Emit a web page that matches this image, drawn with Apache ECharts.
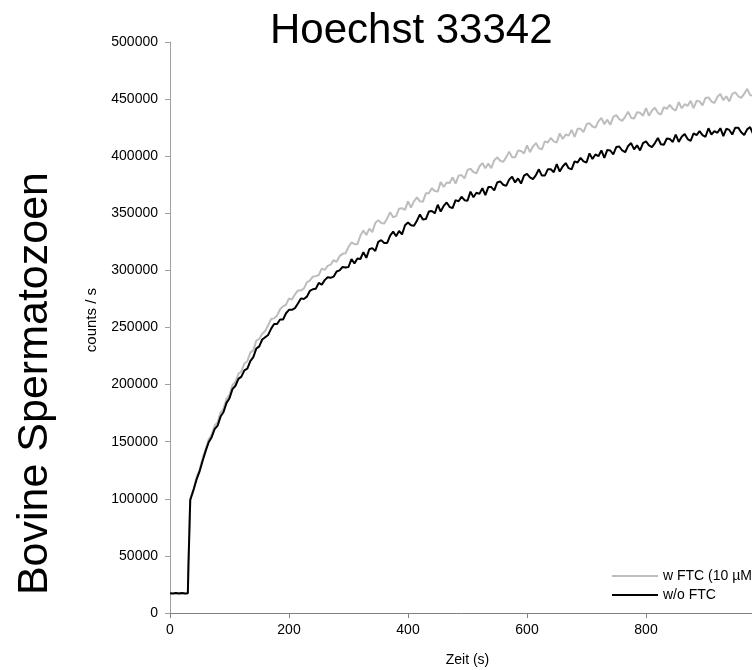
<!DOCTYPE html>
<html>
<head>
<meta charset="utf-8">
<script src="https://cdn.jsdelivr.net/npm/echarts@6/dist/echarts.min.js"></script>
<style>html,body{margin:0;padding:0;background:#fff;}#c{width:752px;height:670px;}</style>
</head>
<body>
<div id="c"></div>
<script>
const titleText = 'Hoechst 33342';
const yTitle = 'Bovine Spermatozoen';
const yUnit = 'counts / s';
const xName = 'Zeit (s)';
const seriesNames = ['w FTC (10 µM)', 'w/o FTC'];

const time = [0,5,10,15,20,25,30,31,33,34,
35,40,45,50,55,60,65,70,75,80,85,90,95,100,105,110,115,120,125,130,135,140,145,150,
155,160,165,170,175,180,185,190,195,200,205,210,215,220,225,230,235,240,245,250,
255,260,265,270,275,280,285,290,295,300,305,310,315,320,325,330,335,340,345,350,
355,360,365,370,375,380,385,390,395,400,405,410,415,420,425,430,435,440,445,450,
455,460,465,470,475,480,485,490,495,500,505,510,515,520,525,530,535,540,545,550,
555,560,565,570,575,580,585,590,595,600,605,610,615,620,625,630,635,640,645,650,
655,660,665,670,675,680,685,690,695,700,705,710,715,720,725,730,735,740,745,750,
755,760,765,770,775,780,785,790,795,800,805,810,815,820,825,830,835,840,845,850,
855,860,865,870,875,880,885,890,895,900,905,910,915,920,925,930,935,940,945,950,
955,960,965,970,975,980];

const withFTC = [17250,17000,17500,17000,17500,17000,17250,42000,42500,99000,
101500,109500,119500,126000,136000,143500,152000,156000,164000,167000,175500,179000,187500,191000,199500,202500,209500,211500,218500,220500,228000,230000,238500,240000,
244500,247000,252000,257500,258000,260500,266000,268500,270000,275500,274500,279000,282500,282500,284000,289500,291000,294500,295000,296000,
301500,300500,304000,305000,309000,307500,312500,314500,315000,320500,324500,323000,323000,330500,335000,331000,336500,333500,341500,344000,
341500,341000,345500,351000,346500,347500,354000,354500,353000,360500,355000,360500,364000,360500,360000,367500,367500,372000,369500,369000,
377500,373000,377000,376500,381500,376000,383000,383500,380500,388000,389000,386000,385000,391000,394000,389500,393500,389500,396500,399000,
396000,395000,399000,404000,399000,399000,405000,404500,402500,409500,403500,408500,411500,407000,406000,413000,412000,416000,413000,412000,
420000,415000,419000,418000,423000,417000,424000,424000,421000,428000,429000,426000,425000,430500,433500,428000,432000,427500,434500,436000,
432500,431000,434500,439000,433500,433000,438500,438000,435500,442000,435500,440000,442500,438000,436500,443000,441500,445000,441500,440000,
447500,442000,445500,444000,448500,442000,448500,448000,444500,451000,451500,448000,446500,452000,454500,449000,452500,448000,454500,456000,
452500,451000,454500,459000,453500,453000];

const withoutFTC = [17250,17000,17500,17000,17500,17000,17250,42000,42500,99000,
100500,108500,117500,124500,133500,142000,149500,154000,161000,164000,172000,176000,184000,188000,196000,199000,205000,207000,212500,214000,220500,224000,231500,233500,
239500,241500,243500,249000,253000,253000,257000,257000,262500,265500,265500,267000,271000,275500,275000,277000,282000,283500,284000,289000,
287500,291500,294000,293500,294500,299000,300000,303000,302500,303000,310000,306000,310500,310000,316000,311000,318500,319500,317000,325000,
326500,324000,324000,330500,334000,330000,334500,331500,339500,342000,339500,339000,343500,349000,344500,345000,351500,352000,350000,357500,
351500,356500,359500,355500,354500,361500,360500,364500,361500,361000,369000,364000,368000,367000,372000,366000,373000,373000,370000,377000,
378000,375000,374000,379500,382000,377000,380500,376000,383000,384500,381500,380000,383500,388500,383000,383000,388500,388500,386000,393000,
386500,391000,394000,389500,388500,395500,394500,398500,395500,394500,402500,397500,401500,400000,405000,398500,405500,405000,401500,408000,
408500,405000,403500,409000,411500,406000,409500,405000,411500,413000,409500,408000,411500,416000,410500,410000,415500,415000,412500,419000,
412500,417000,419500,415000,413500,420000,418500,422000,418500,417000,424500,419000,422000,420500,424500,417500,424000,423000,419000,425000,
425000,421000,418500,423500,425500,419500];

const xTicks = {min: 0, max: 1000, interval: 200};
const yTicks = {min: 0, max: 500000, interval: 50000};

const chart = echarts.init(document.getElementById('c'), null, {width: 752, height: 670});
const font = 'Liberation Sans, Arial, sans-serif';
chart.setOption({
  animation: false,
  backgroundColor: '#ffffff',
  title: {
    text: titleText, left: 265, top: 5,
    textStyle: {fontFamily: font, fontSize: 42, fontWeight: 'normal', color: '#000'}
  },
  grid: {left: 170, top: 42, right: -13, bottom: 57, containLabel: false, outerBoundsMode: 'none'},
  xAxis: {
    type: 'value', min: xTicks.min, max: xTicks.max, interval: xTicks.interval,
    name: xName, nameLocation: 'middle', nameGap: 40,
    nameTextStyle: {fontFamily: font, fontSize: 14, color: '#000'},
    axisLine: {show: true, onZero: false, lineStyle: {color: '#808080', width: 1}},
    axisTick: {show: true, length: 5, lineStyle: {color: '#808080'}},
    axisLabel: {fontFamily: font, fontSize: 14, color: '#000', margin: 10, showMaxLabel: false},
    splitLine: {show: false}
  },
  yAxis: {
    type: 'value', min: yTicks.min, max: yTicks.max, interval: yTicks.interval,
    axisLine: {show: true, lineStyle: {color: '#a0a0a0', width: 1}},
    axisTick: {show: true, length: 5, lineStyle: {color: '#a0a0a0'}},
    axisLabel: {fontFamily: font, fontSize: 14, color: '#000', margin: 12, formatter: v => String(v)},
    splitLine: {show: false}
  },
  legend: {
    orient: 'vertical', left: 607, top: 564, itemWidth: 46, itemHeight: 2, itemGap: 5,
    icon: 'rect',
    textStyle: {fontFamily: font, fontSize: 14, color: '#000'},
    data: seriesNames
  },
  graphic: [
    {type: 'text', left: 14, top: 172, rotation: Math.PI / 2,
     style: {text: yTitle, font: '43px Liberation Sans, Arial, sans-serif', fill: '#000'}},
    {type: 'text', left: 84, top: 288, rotation: Math.PI / 2,
     style: {text: yUnit, font: '15px Liberation Sans, Arial, sans-serif', fill: '#000'}}
  ],
  series: [
    {name: seriesNames[0], type: 'line', symbol: 'none', clip: true,
     data: time.map((t, i) => [t, withFTC[i]]),
     lineStyle: {color: '#bdbdbd', width: 2}, itemStyle: {color: '#bdbdbd'}},
    {name: seriesNames[1], type: 'line', symbol: 'none', clip: true,
     data: time.map((t, i) => [t, withoutFTC[i]]),
     lineStyle: {color: '#000000', width: 2}, itemStyle: {color: '#000000'}}
  ]
});
</script>
</body>
</html>
